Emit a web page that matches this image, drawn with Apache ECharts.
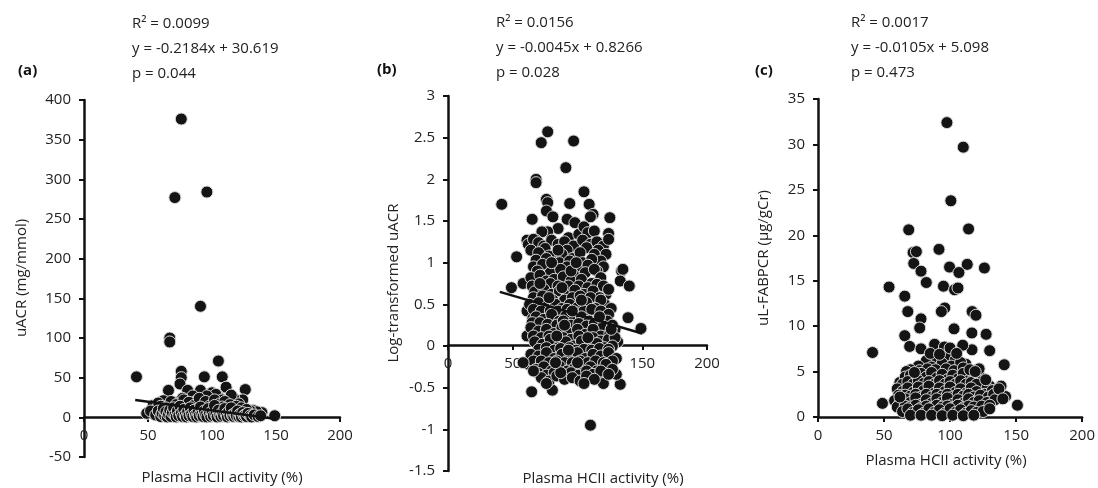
<!DOCTYPE html>
<html>
<head>
<meta charset="utf-8">
<script src="https://cdn.jsdelivr.net/npm/echarts@6/dist/echarts.min.js"></script>
<style>
  html, body { margin: 0; padding: 0; background: #fff; }
  #chart { width: 1098px; height: 488px; }
</style>
</head>
<body>
<div id="chart"></div>
<script>
// panel (a): uACR vs HCII activity
const pointsA = [
  [76,376],[71,277],[96,284],[91,140],[67,100],[67,95],[41,51],[105,71],[76,58],[76,50],
  [94,51],[108,51],[75,42],[66,34],[126,35],[111,38],[91,34],[81,34],[100,31],[85,27],
  [105,26],[124,22],[77,24],[62,21],[117,24],[67,17],[112,13],[93,18],[49,5],[54,15],
  [132,9],[139,6],[149,2],[135,7],[130,8],[103,29],[96,27],[115,28],[121,17],[88,21],
  [70,19],[58,18],[80,15],[100,18],[108,22],[118,10],
  [60,14],[68,20],[72,16],[78,22],[82,19],[86,15],[90,24],[95,20],[98,14],[102,22],
  [106,17],[110,20],[114,16],[119,14],[123,12],[127,10],[64,12],[74,11],[88,10],[99,9],
  [108,13],[116,8],[57,11],[52,8],
  [56,3],[58,8],[60,1],[61,5],[62,11],[63,2],[64,7],[65,0.5],[66,4],[67,9],
  [68,1],[69,6],[70,12],[71,3],[72,0.5],[73,8],[74,2],[75,14],[76,5],[77,1],
  [78,10],[79,3],[80,0.5],[81,7],[82,2],[83,12],[84,4],[85,1],[86,9],[87,3],
  [88,0.5],[89,6],[90,2],[91,13],[92,4],[93,1],[94,8],[95,3],[96,0.5],[97,11],
  [98,5],[99,1],[100,7],[101,2],[102,15],[103,4],[104,0.5],[105,9],[106,3],[107,1],
  [108,6],[109,2],[110,11],[111,4],[112,0.5],[113,7],[114,2],[115,12],[116,3],[117,1],
  [118,5],[119,2],[120,8],[121,1],[122,4],[123,0.5],[124,6],[125,2],[126,3],[127,1],
  [128,5],[130,2],[131,0.5],[133,3],[136,1],[138,2]
];
const lineA = [[40, 21.9], [150, -2.1]];

// panel (b): log-transformed uACR
const pointsB = [
  [77,2.57],[72,2.44],[97,2.46],[91,2.14],[68,2.0],[68,1.96],[41.5,1.70],[76,1.76],[77,1.72],[94,1.71],
  [105,1.85],[109,1.70],[125,1.54],[65,1.52],[76,1.62],[81,1.55],[92,1.52],[98,1.48],[112,1.58],[110,1.55],
  [124,1.35],[85,1.41],[77,1.37],[72.5,1.37],[61,1.27],[68,1.27],[93,1.30],[101,1.34],[105,1.43],[108,1.36],
  [113,1.38],[53,1.07],[134,0.90],[135,0.92],[133,0.78],[140,0.72],[49,0.70],[58,0.75],[139,0.34],[149,0.21],
  [61,0.42],[65.5,0.33],[61,0.12],[64.6,-0.55],[80.6,-0.53],[110,-0.95],[133,-0.46],[62,-0.22],[66.5,-0.2],[117,-0.40],
  [120,-0.45],[130,-0.34],
  [62,1.22],[66,1.28],[70,1.24],[74,1.2],[80,1.27],[85,1.22],[90,1.25],[97,1.2],[104,1.27],[110,1.22],
  [115,1.25],[120,1.2],[124,1.28],
  [64,1.15],[75,1.17],[83,1.05],[92,1.15],[107,1.18],[116,1.15],[122,1.1],
  [70,1.12],[78,1.08],[88,1.1],[96,1.05],[102,1.12],[113,1.1],[118,1.02],
  [68,1.03],[76,1.05],[86,1.0],[94,1.02],[104,1.0],[111,1.04],[120,0.95],
  [66,0.95],[73,0.98],[84,0.9],[92,0.95],[100,0.92],[108,0.97],[115,0.9],
  [69,0.9],[79,0.88],[87,0.92],[97,0.85],[106,0.88],[113,0.92],
  [64,0.82],[71,0.85],[76,0.78],[82,0.8],[89,0.83],[95,0.78],[103,0.8],[111,0.75],[118,0.82],[122,0.62],
  [65,0.72],[72,0.7],[79,0.75],[85,0.72],[93,0.72],[101,0.72],[108,0.7],[115,0.74],[120,0.72],
  [67,0.65],[74,0.68],[80,0.62],[86,0.66],[92,0.6],[98,0.67],[105,0.62],[112,0.66],[117,0.58],[121,0.5],
  [66,0.58],[73,0.6],[81,0.55],[90,0.55],[96,0.58],[102,0.6],[110,0.58],[118,0.55],
  [63,0.5],[70,0.52],[77,0.48],[83,0.5],[88,0.45],[94,0.5],[100,0.46],[107,0.52],[114,0.45],[120,0.4],[126,0.45],
  [66,0.44],[72,0.42],[79,0.42],[85,0.42],[92,0.44],[99,0.4],[105,0.42],[111,0.44],[118,0.42],[124,0.38],
  [68,0.35],[74,0.32],[80,0.38],[86,0.3],[91,0.36],[97,0.3],[103,0.35],[109,0.3],[116,0.28],[123,0.3],[129,0.2],
  [65,0.28],[71,0.28],[77,0.26],[84,0.25],[89,0.3],[95,0.25],[101,0.27],[107,0.24],[113,0.27],[120,0.24],[127,0.25],
  [64,0.22],[70,0.18],[76,0.2],[82,0.15],[88,0.22],[94,0.15],[100,0.2],[106,0.14],[112,0.2],[118,0.12],[125,0.15],[131,0.05],
  [66,0.12],[72,0.1],[78,0.12],[83,0.08],[89,0.1],[95,0.08],[101,0.12],[106,0.05],[112,0.1],[118,0.06],[124,0.08],[129,0.1],
  [67,0.05],[73,0.02],[79,0.08],[85,-0.02],[91,0.05],[97,0],[103,0.06],[109,-0.03],[115,0.03],[121,-0.02],[127,0],
  [70,-0.04],[76,-0.02],[82,-0.05],[87,-0.03],[94,-0.02],[99,-0.05],[105,-0.04],[111,-0.05],[117,-0.03],[124,-0.04],
  [64,-0.1],[70,-0.12],[76,-0.08],[82,-0.15],[88,-0.1],[94,-0.14],[100,-0.08],[106,-0.15],[112,-0.1],[118,-0.12],[124,-0.08],[130,-0.15],
  [66,-0.18],[72,-0.18],[78,-0.2],[84,-0.18],[90,-0.2],[96,-0.2],[102,-0.18],[108,-0.2],[114,-0.18],[120,-0.2],[127,-0.18],
  [68,-0.28],[74,-0.25],[80,-0.3],[86,-0.24],[92,-0.3],[98,-0.26],[104,-0.32],[110,-0.25],[115,-0.3],[122,-0.22],[127,-0.28],
  [70,-0.33],[76,-0.35],[82,-0.32],[89,-0.34],[95,-0.32],[101,-0.35],[107,-0.3],[112,-0.34],[118,-0.3],[124,-0.34],
  [72,-0.38],[78,-0.42],[84,-0.36],[90,-0.4],[96,-0.38],[102,-0.42],[107,-0.36],[113,-0.4],
  [88,0.7],[95,0.9],[99,1.0],[80,1.0],[85,1.15],[78,0.58],[103,0.55],[90,0.25],[96,0.42],[84,0.12],
  [100,-0.2],[108,0.1],[93,-0.05],[87,-0.32],[76,-0.45],[105,-0.45],[83,-0.2],[117,0.35],[124,0.68],[126,0.2],
  [66,-0.3],[71,0.75],[58,-0.2]
];
const lineB = [[40, 0.65], [150, 0.15]];

// panel (c): uL-FABPCR
const pointsC = [
  [97.6,32.4],[110,29.7],[100.6,23.8],[68.7,20.6],[114,20.7],[91.6,18.45],[72,18.1],[74.5,18.2],[72.5,16.9],[78,16.05],
  [99.6,16.5],[113,16.8],[126,16.4],[106.7,15.9],[53.8,14.3],[82,14.8],[95,14.4],[103.4,14.0],[106,14.2],[65.7,13.3],
  [68,11.6],[96,12.0],[93.4,11.6],[116.7,11.6],[119.6,11.2],[78,10.8],[77,9.8],[103,9.7],[65.7,8.95],[116.5,9.25],
  [127.3,9.1],[41.3,7.1],[69.4,7.77],[78,7.5],[130,7.3],[116.6,7.4],[88.3,8.0],[95.7,7.7],[109.6,7.9],[141,5.75],
  [122,4.6],[48.8,1.5],[151,1.3],[142,2.25],[138.6,3.4],
  [82,6.2],[90,6.5],[98,6.8],[104,6.3],[112,5.8],[86,5.5],[94,5.9],[101,5.6],[108,6.0],[76,5.6],[70,5.2],
  [67,5.0],[77,5.1],[83,5.3],[89,5.2],[97,5.3],[103,5.1],[110,5.4],[122,5.3],
  [62,3.8],[66,4.4],[70,4.6],[74,4.2],[78,4.8],[82,4.4],[86,4.9],[90,4.3],[94,4.7],[98,4.1],
  [102,4.6],[106,4.2],[110,4.8],[114,4.0],[118,4.3],[124,3.9],[130,3.4],[135,3.0],
  [64,3.6],[68,3.9],[72,3.6],[76,4.0],[80,3.7],[84,3.9],[88,3.6],[92,4.0],[96,3.6],[100,3.9],
  [104,3.6],[108,4.0],[112,3.6],[116,3.8],[120,3.6],[128,3.2],
  [60,3.1],[64,2.8],[68,3.2],[72,2.7],[76,3.3],[80,2.9],[84,3.4],[88,2.6],[92,3.2],[96,2.8],
  [100,3.3],[104,2.7],[108,3.1],[112,2.6],[116,3.2],[120,2.8],[126,2.5],[132,2.9],
  [61,2.4],[66,2.4],[70,2.3],[74,2.5],[78,2.2],[82,2.5],[86,2.2],[90,2.5],[94,2.3],[98,2.5],
  [102,2.2],[106,2.5],[110,2.3],[114,2.5],[118,2.2],[123,2.4],[129,2.2],[133,2.5],
  [58,1.8],[62,1.5],[66,2.0],[70,1.6],[74,2.1],[78,1.4],[82,1.9],[86,1.5],[90,2.0],[94,1.6],
  [98,2.1],[102,1.4],[106,1.9],[110,1.5],[114,2.0],[118,1.6],[122,1.8],[128,1.6],[134,1.9],
  [60,1.1],[66,1.2],[70,1.1],[74,1.3],[78,1.0],[82,1.2],[86,1.0],[90,1.3],[94,1.1],[98,1.2],
  [102,1.0],[106,1.3],[110,1.0],[114,1.2],[118,1.1],[124,1.2],[130,1.3],
  [64,0.6],[68,0.9],[72,0.5],[76,0.8],[80,0.4],[84,0.9],[88,0.5],[92,0.8],[96,0.4],[100,0.9],
  [104,0.5],[108,0.8],[112,0.4],[116,0.7],[120,0.5],[125,0.6],[130,0.9],
  [70,0.2],[78,0.2],[86,0.2],[94,0.15],[102,0.2],[110,0.15],[118,0.2],
  [85,7.0],[92,6.9],[100,7.6],[105,7.0],[73,4.9],[115,5.2],[119,5.0],[127,4.1],[62,2.2],[137,3.1],[140,2.0]
];

const statsA = ['R² = 0.0099', 'y = -0.2184x + 30.619', 'p = 0.044'];
const statsB = ['R² = 0.0156', 'y = -0.0045x + 0.8266', 'p = 0.028'];
const statsC = ['R² = 0.0017', 'y = -0.0105x + 5.098', 'p = 0.473'];

const FONT = '"Open Sans", "Noto Sans", sans-serif';
const TXT = '#222';
const AX = '#111';

// x axis sits on y = 0, so shift it up from the grid bottom
function xAxisCfg(gi, offset) {
  return {
    type: 'value', gridIndex: gi, min: 0, max: 200, interval: 50, offset: offset,
    axisLine: { onZero: false, lineStyle: { color: AX, width: 2.5 } },
    axisTick: { show: true, length: 5, lineStyle: { color: AX, width: 2 } },
    axisLabel: { color: TXT, fontSize: 15, fontFamily: FONT, margin: 11 },
    splitLine: { show: false }
  };
}
function yAxisCfg(gi, min, max, interval) {
  return {
    type: 'value', gridIndex: gi, min: min, max: max, interval: interval,
    axisLine: { show: true, onZero: false, lineStyle: { color: AX, width: 2.5 } },
    axisTick: { show: true, length: 5, lineStyle: { color: AX, width: 2 } },
    axisLabel: { color: TXT, fontSize: 15, fontFamily: FONT, margin: 13 },
    splitLine: { show: false }
  };
}
function scatter(gi, data) {
  return {
    type: 'scatter', xAxisIndex: gi, yAxisIndex: gi, data: data,
    symbolSize: 12, z: 3,
    itemStyle: { color: '#141414', borderColor: '#d8d8d8', borderWidth: 1, opacity: 1 }
  };
}
function regLine(gi, data) {
  return {
    type: 'line', xAxisIndex: gi, yAxisIndex: gi, data: data,
    symbol: 'none', z: 5,
    lineStyle: { color: '#111', width: 2.5 }
  };
}
function txt(x, y, s, extra) {
  return {
    type: 'text', x: x, y: y,
    style: Object.assign({ text: s, fill: TXT, font: '15px ' + FONT, textVerticalAlign: 'middle' }, extra || {})
  };
}
function stats(x, y0, lines) {
  return lines.map((s, i) => txt(x, y0 + i * 25, s));
}
function yName(x, y, s) {
  return { type: 'text', x: x, y: y, rotation: Math.PI / 2,
    style: { text: s, fill: TXT, font: '15px ' + FONT, textAlign: 'center', textVerticalAlign: 'middle' } };
}

const chart = echarts.init(document.getElementById('chart'));
chart.setOption({
  animation: false,
  grid: [
    { left: 84, top: 100, width: 256, height: 357 },
    { left: 448, top: 96, width: 259, height: 375 },
    { left: 818, top: 99, width: 266, height: 318 }
  ],
  xAxis: [xAxisCfg(0, -40), xAxisCfg(1, -126), xAxisCfg(2, 0)],
  yAxis: [
    yAxisCfg(0, -50, 400, 50),
    yAxisCfg(1, -1.5, 3, 0.5),
    yAxisCfg(2, 0, 35, 5)
  ],
  series: [
    scatter(0, pointsA), regLine(0, lineA),
    scatter(1, pointsB), regLine(1, lineB),
    scatter(2, pointsC)
  ],
  graphic: [
    txt(18, 71, '(a)', { font: 'bold 15px ' + FONT, fill: '#111' }),
    txt(377, 70, '(b)', { font: 'bold 15px ' + FONT, fill: '#111' }),
    txt(755, 71, '(c)', { font: 'bold 15px ' + FONT, fill: '#111' }),
    ...stats(132, 24, statsA),
    ...stats(496, 23, statsB),
    ...stats(851, 23, statsC),
    txt(222, 478, 'Plasma HCII activity (%)', { textAlign: 'center' }),
    txt(603, 479, 'Plasma HCII activity (%)', { textAlign: 'center' }),
    txt(946, 461, 'Plasma HCII activity (%)', { textAlign: 'center' }),
    yName(22, 278, 'uACR (mg/mmol)'),
    yName(394, 283, 'Log-transformed uACR'),
    yName(764, 258, 'uL-FABPCR (μg/gCr)')
  ]
});
</script>
</body>
</html>
